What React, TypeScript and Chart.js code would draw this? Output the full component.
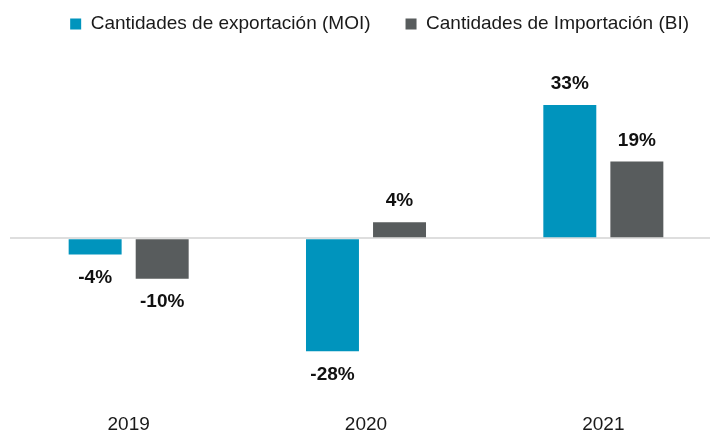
import React, { useEffect, useRef } from "react";
import { Chart, registerables } from "chart.js";

Chart.register(...registerables);

const categories = ["2019", "2020", "2021"];
const exportValues = [-4, -28, 33];
const importValues = [-10, 4, 19];
const seriesNames = ["Cantidades de exportación (MOI)", "Cantidades de Importación (BI)"];

const FONT = "'Liberation Sans', Arial, sans-serif";

const valueLabels = {
  id: "valueLabels",
  afterDatasetsDraw(chart: any) {
    const ctx = chart.ctx;
    ctx.save();
    ctx.font = `bold 19px ${FONT}`;
    ctx.fillStyle = "#111";
    ctx.textAlign = "center";
    ctx.textBaseline = "middle";
    chart.data.datasets.forEach((ds: any, di: number) => {
      const meta = chart.getDatasetMeta(di);
      meta.data.forEach((bar: any, i: number) => {
        const v = ds.data[i];
        const y = v >= 0 ? bar.y - 21 : bar.y + 23;
        ctx.fillText(`${v}%`, bar.x, y);
      });
    });
    ctx.restore();
  },
};

const legendShift = {
  id: "legendShift",
  afterLayout(chart: any) {
    if (chart.legend) {
      chart.legend.left += 2;
      chart.legend.right += 2;
    }
  },
};

export default function App() {
  const ref = useRef<HTMLCanvasElement>(null);
  useEffect(() => {
    document.body.style.margin = "0";
    const chart = new Chart(ref.current!, {
      type: "bar",
      data: {
        labels: categories,
        datasets: [
          {
            label: seriesNames[0],
            data: exportValues,
            backgroundColor: "#0094bd",
            categoryPercentage: 0.565,
            barPercentage: 0.79,
          },
          {
            label: seriesNames[1],
            data: importValues,
            backgroundColor: "#585c5d",
            categoryPercentage: 0.565,
            barPercentage: 0.79,
          },
        ],
      },
      options: {
        animation: false,
        responsive: false,
        layout: { padding: { left: 10, right: 0, top: -20.5, bottom: -5 } },
        plugins: {
          legend: {
            position: "top",
            align: "end",
            labels: {
              boxWidth: 11,
              boxHeight: 11,
              padding: 35,
              color: "#1a1a1a",
              font: { family: FONT, size: 19 },
            },
          },
          tooltip: { enabled: false },
        },
        scales: {
          x: {
            grid: { display: false },
            border: { display: false },
            ticks: { color: "#1a1a1a", font: { family: FONT, size: 19 }, padding: 3 },
          },
          y: {
            min: -40.6,
            max: 48.25,
            ticks: { display: false, stepSize: 1 },
            border: { display: false },
            grid: {
              drawTicks: false,
              color: (c: any) => (c.tick && c.tick.value === 0 ? "#dedede" : "rgba(0,0,0,0)"),
              lineWidth: 2,
            },
          },
        },
      },
      plugins: [valueLabels, legendShift],
    });
    return () => chart.destroy();
  }, []);
  return (
    <div style={{ width: 710, height: 434, overflow: "hidden" }}>
      <canvas ref={ref} width={722} height={434} style={{ display: "block" }} />
    </div>
  );
}
